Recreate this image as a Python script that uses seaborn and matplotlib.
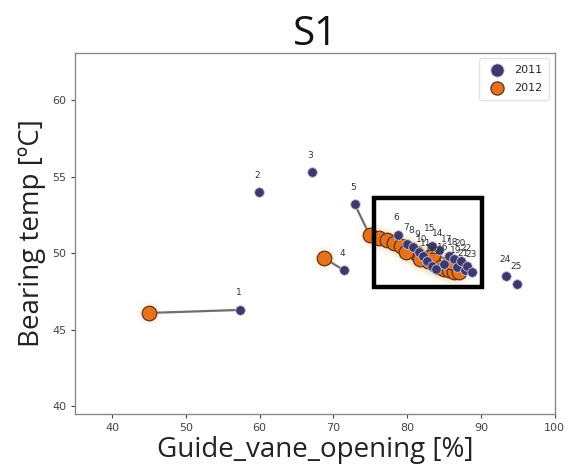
import numpy as np
import pandas as pd
import matplotlib
matplotlib.use("Agg")
import matplotlib.pyplot as plt
from matplotlib.patches import Rectangle
import seaborn as sns

# Operating points per unit, 2011 and 2012 (NaN = no 2012 record)
units = list(range(1, 26))
gvo_2011 = [57.4, 59.9, 67.1, 71.4, 72.9, 78.7, 80.0, 80.8, 81.6, 82.1,
            82.7, 83.3, 83.9, 84.3, 83.3, 85.0, 85.6, 86.3, 86.8, 87.3,
            87.8, 88.1, 88.8, 93.4, 94.9]
temp_2011 = [46.3, 54.0, 55.3, 48.9, 53.2, 51.2, 50.6, 50.4, 50.1, 49.8,
             49.5, 49.2, 49.0, 50.2, 50.5, 49.3, 49.8, 49.6, 49.1, 49.5,
             48.9, 49.2, 48.8, 48.5, 48.0]
gvo_2012 = [45.0, np.nan, np.nan, 68.7, 74.9, 76.2, 77.2, 78.2, 79.2, 80.3,
            81.2, 82.0, 82.8, 83.6, 84.3, 85.0, 85.7, 86.4, 87.0, 79.8,
            81.8, 83.5, 86.0, np.nan, np.nan]
temp_2012 = [46.1, np.nan, np.nan, 49.7, 51.2, 51.0, 50.9, 50.7, 50.5, 50.3,
             50.0, 49.7, 49.5, 49.3, 49.1, 49.0, 48.9, 48.8, 48.8, 50.1,
             49.6, 49.9, 49.4, np.nan, np.nan]

box_x = (75.5, 90.2)
box_y = (47.8, 53.6)

c2011 = "#3b3a6a"
c2012 = "#e8711c"

sns.set_style("white")
plt.rcParams["font.family"] = ["DejaVu Sans"]

df11 = pd.DataFrame({"unit": units, "gvo": gvo_2011, "temp": temp_2011})
df12 = pd.DataFrame({"unit": units, "gvo": gvo_2012, "temp": temp_2012}).dropna()

fig = plt.figure(figsize=(5.69, 4.72), dpi=100)
ax = fig.add_axes([0.132, 0.123, 0.843, 0.765])

# connector between the two years of each unit
for g1, t1, g2, t2 in zip(gvo_2011, temp_2011, gvo_2012, temp_2012):
    if not np.isnan(g2):
        ax.plot([g1, g2], [t1, t2], color="#6e6e6e", lw=1.6, zorder=1)

# soft glow under the 2012 points (builds up where they crowd together)
for s, a in [(420, 0.035), (280, 0.05), (190, 0.06)]:
    ax.scatter(df12["gvo"], df12["temp"], s=s, color="#f4b04a", alpha=a,
               linewidths=0, zorder=2)

sns.scatterplot(data=df12, x="gvo", y="temp", ax=ax, color=c2012, s=110,
                edgecolor="#5a3424", linewidth=0.9, label="2012", zorder=3)
sns.scatterplot(data=df11, x="gvo", y="temp", ax=ax, color=c2011, s=48,
                edgecolor="#c9c2e0", linewidth=0.6, label="2011", zorder=4)

for u, g, t in zip(units, gvo_2011, temp_2011):
    ax.annotate(str(u), (g, t), xytext=(-1, 9), textcoords="offset points",
                ha="center", va="bottom", fontsize=6.5, color="#333333",
                zorder=5)

ax.add_patch(Rectangle((box_x[0], box_y[0]), box_x[1] - box_x[0],
                       box_y[1] - box_y[0], fill=False, edgecolor="black",
                       lw=3.2, zorder=6))

ax.set_xlim(35, 100)
ax.set_ylim(39.5, 63.1)
ax.set_xticks(range(40, 101, 10))
ax.set_yticks(range(40, 61, 5))
ax.tick_params(axis="both", labelsize=8, colors="#444444", length=3,
               direction="out", bottom=True, left=True)
for sp in ax.spines.values():
    sp.set_color("#8a8a8a")
    sp.set_linewidth(1.0)

lab_font = ["Open Sans", "DejaVu Sans"]
ax.set_xlabel("Guide_vane_opening [%]", fontsize=20, family=lab_font,
              color="#222222", labelpad=2)
ax.set_ylabel("Bearing temp [ºC]", fontsize=20, family=lab_font,
              color="#222222", labelpad=4)
ax.set_title("S1", fontsize=29, family=lab_font, color="#111111", pad=6)

handles, labels = ax.get_legend_handles_labels()
order = [labels.index("2011"), labels.index("2012")]
leg = ax.legend([handles[i] for i in order], [labels[i] for i in order],
                loc="upper right", fontsize=8, frameon=True,
                handletextpad=0.6, borderpad=0.6, labelspacing=0.7)
for h in leg.legend_handles:
    h.set_sizes([90])
leg.get_frame().set_edgecolor("#dddddd")

fig.savefig("out.png", dpi=100)
